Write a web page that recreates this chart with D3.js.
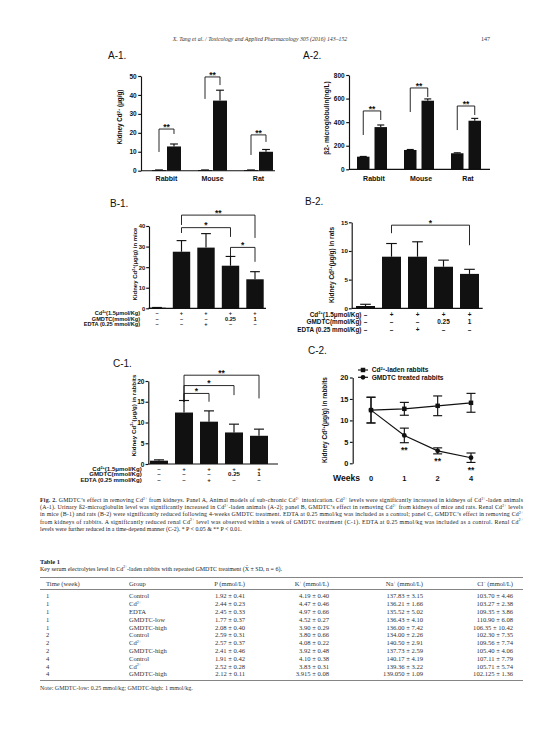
<!DOCTYPE html>
<html>
<head>
<meta charset="utf-8">
<script src="https://cdn.jsdelivr.net/npm/d3@7"></script>
<style>
  html, body { margin: 0; padding: 0; background: #fff; }
  svg { display: block; }
</style>
</head>
<body>
<svg id="page" width="554" height="739"></svg>
<script>
// ---- data ----
const species = ["Rabbit", "Mouse", "Rat"];
const a1Control = [0.3, 0.3, 0.3];
const a1ControlErr = [0.1, 0.1, 0.1];
const a1Cd = [12.8, 37.0, 10.0];
const a1CdErr = [1.3, 5.5, 1.2];
const a2Control = [107, 164, 136];
const a2ControlErr = [2, 4, 4];
const a2Cd = [358, 582, 412];
const a2CdErr = [18, 15, 20];

const b1Values = [0.3, 27.5, 29.5, 20.7, 14.1];
const b1Err = [0.1, 5.4, 6.8, 4.5, 3.7];
const b2Values = [0.4, 9.0, 9.0, 7.25, 6.0];
const b2Err = [0.3, 2.3, 2.6, 1.15, 0.8];
const c1Values = [0.8, 12.4, 10.2, 7.6, 6.8];
const c1Err = [0.2, 2.9, 2.6, 2.0, 1.6];

const treatLabels = ["Cd^{2+}(1.5μmol/Kg)", "GMDTC(mmol/Kg)", "EDTA (0.25 mmol/Kg)"];
const treatCd = ["–", "+", "+", "+", "+"];
const treatGmdtc = ["–", "–", "–", "0.25", "1"];
const treatEdta = ["–", "–", "+", "–", "–"];

const weeks = ["0", "1", "2", "4"];
const c2Laden = [12.4, 12.7, 13.4, 14.1];
const c2LadenErr = [3.0, 1.5, 2.3, 2.2];
const c2Treated = [12.4, 6.5, 2.9, 1.3];
const c2TreatedErr = [3.0, 1.7, 0.7, 1.1];
const c2Sig = ["", "**", "**", "**"];

// brackets: [from bar, to bar, top value, left foot, right foot, label]
const a1Sig = [[22.0, 9.9, 19.4], [49.5, 37.9, 45.2], [18.9, 8.3, 15.2]];
const a2Sig = [[495, 291, 418], [690, 486, 613], [537, 333, 461]];
const b1Sig = [[1, 4, 45.3, 40.5, 34.2, "**"], [1, 3, 39.2, 36.6, 34.7, "*"], [3, 4, 29.6, 25.1, 22.6, "*"]];
const b2Sig = [[1, 4, 14.5, 13.1, 11.0, "*"]];
const c1Sig = [[1, 4, 21.4, 15.0, 15.8, "**"], [1, 3, 18.9, 15.0, 16.6, "*"], [1, 2, 17.0, 15.0, 15.0, "*"]];

const captionLines = [
  "GMDTC’s effect in removing Cd^{2+} from kidneys. Panel A, Animal models of sub-chronic Cd^{2+} intoxication. Cd^{2+} levels were significantly increased in kidneys of Cd^{2+}-laden animals",
  "(A-1). Urinary ß2-microglobulin level was significantly increased in Cd^{2+}-laden animals (A-2); panel B, GMDTC’s effect in removing Cd^{2+} from kidneys of mice and rats. Renal Cd^{2+} levels",
  "in mice (B-1) and rats (B-2) were significantly reduced following 4-weeks GMDTC treatment. EDTA at 0.25 mmol/kg was included as a control; panel C, GMDTC’s effect in removing Cd^{2+}",
  "from kidneys of rabbits. A significantly reduced renal Cd^{2+} level was observed within a week of GMDTC treatment (C-1). EDTA at 0.25 mmol/kg was included as a control. Renal Cd^{2+}",
  "levels were further reduced in a time-depend manner (C-2). * P < 0.05 & ** P < 0.01."
];

const tableHead = ["Time (week)", "Group", "P (mmol/L)", "K^{+} (mmol/L)", "Na^{+} (mmol/L)", "Cl^{−} (mmol/L)"];
const tableWeek = ["1", "1", "1", "1", "1", "2", "2", "2", "4", "4", "4"];
const tableGroup = ["Control", "Cd^{2+}", "EDTA", "GMDTC-low", "GMDTC-high", "Control", "Cd^{2+}", "GMDTC-high", "Control", "Cd^{2+}", "GMDTC-high"];
const tableP = ["1.92 ± 0.41", "2.44 ± 0.23", "2.45 ± 0.33", "1.77 ± 0.37", "2.08 ± 0.40", "2.59 ± 0.31", "2.57 ± 0.37", "2.41 ± 0.46", "1.91 ± 0.42", "2.52 ± 0.28", "2.12 ± 0.11"];
const tableK = ["4.19 ± 0.40", "4.47 ± 0.46", "4.97 ± 0.66", "4.52 ± 0.27", "3.90 ± 0.29", "3.80 ± 0.66", "4.08 ± 0.22", "3.92 ± 0.48", "4.10 ± 0.38", "3.83 ± 0.31", "3.915 ± 0.08"];
const tableNa = ["137.83 ± 3.15", "136.21 ± 1.66", "135.52 ± 5.02", "136.43 ± 4.10", "136.00 ± 7.42", "134.00 ± 2.26", "140.50 ± 2.91", "137.73 ± 2.59", "140.17 ± 4.19", "139.36 ± 3.22", "139.050 ± 1.09"];
const tableCl = ["103.70 ± 4.46", "103.27 ± 2.38", "109.35 ± 3.86", "110.90 ± 6.08", "106.35 ± 10.42", "102.30 ± 7.35", "109.56 ± 7.74", "105.40 ± 4.06", "107.11 ± 7.79", "105.71 ± 5.74", "102.125 ± 1.36"];

// ---- helpers ----
const SANS = "'Liberation Sans', Arial, Helvetica, sans-serif";
const SERIF = "'Liberation Serif', 'DejaVu Serif', serif";
const INK = "#111";
const svg = d3.select("#page");

// text with ^{...} superscripts
function rich(sel, str, fs) {
  const parts = str.split(/\^\{([^}]*)\}/);
  let up = false;
  parts.forEach((p, i) => {
    if (p === "") return;
    const t = sel.append("tspan").text(p);
    if (i % 2 === 1) {
      t.attr("font-size", fs * 0.62).attr("dy", -fs * 0.38);
      up = true;
    } else if (up) {
      t.attr("dy", fs * 0.38);
      up = false;
    }
  });
  return sel;
}

function addText(x, y, str, opt) {
  const fs = opt.size;
  const t = svg.append("text")
    .attr("x", x).attr("y", y)
    .attr("font-family", opt.family || SANS)
    .attr("font-size", fs)
    .attr("font-weight", opt.weight || "normal")
    .attr("text-anchor", opt.anchor || "start")
    .attr("fill", opt.fill || INK);
  if (opt.style) t.attr("font-style", opt.style);
  if (opt.rotate) t.attr("transform", `rotate(-90,${x},${y})`);
  rich(t, str, fs);
  return t;
}

function leftAxis(y, x0, ticks, fs, pad) {
  svg.append("g")
    .attr("transform", `translate(${x0},0)`)
    .call(d3.axisLeft(y).tickValues(ticks).tickSize(2.8).tickSizeOuter(0).tickPadding(pad))
    .attr("font-family", SANS).attr("font-size", fs).attr("font-weight", "bold")
    .call(g => g.selectAll("path, line").attr("stroke", INK).attr("stroke-width", 1.15))
    .call(g => g.selectAll("text").attr("fill", INK));
}

function baseLine(y, x0, x1) {
  svg.append("line")
    .attr("x1", x0).attr("x2", x1).attr("y1", y(0)).attr("y2", y(0))
    .attr("stroke", INK).attr("stroke-width", 1.15);
}

function drawBars(list, y) {
  const g = svg.append("g");
  g.selectAll("rect").data(list).join("rect")
    .attr("x", d => d.x).attr("width", d => d.w)
    .attr("y", d => y(d.v))
    .attr("height", d => Math.max(0.9, y(0) - y(d.v)))
    .attr("fill", INK);
  g.selectAll("line.err").data(list).join("line").attr("class", "err")
    .attr("x1", d => d.x + d.w / 2).attr("x2", d => d.x + d.w / 2)
    .attr("y1", d => y(d.v)).attr("y2", d => y(d.v + d.e))
    .attr("stroke", INK).attr("stroke-width", 1.15);
  g.selectAll("line.cap").data(list).join("line").attr("class", "cap")
    .attr("x1", d => d.x + d.w * 0.22).attr("x2", d => d.x + d.w * 0.78)
    .attr("y1", d => y(d.v + d.e)).attr("y2", d => y(d.v + d.e))
    .attr("stroke", INK).attr("stroke-width", 1.15);
}

function drawBrackets(list, y) {
  list.forEach(b => {
    const p = d3.path();
    p.moveTo(b.xl, y(b.l));
    p.lineTo(b.xl, y(b.top));
    p.lineTo(b.xr, y(b.top));
    p.lineTo(b.xr, y(b.r));
    svg.append("path").attr("d", p.toString())
      .attr("fill", "none").attr("stroke", INK).attr("stroke-width", 0.9);
    addText((b.xl + b.xr) / 2, y(b.top) + 0.6, b.label, { size: 8.5, anchor: "middle", weight: "bold" });
  });
}

function title(x, yc, str) {
  addText(x, yc + 3.5, str, { size: 10 });
}

function yLabel(xc, yc, str, fs) {
  addText(xc + 0.36 * fs, yc, str, { size: fs, anchor: "middle", weight: "bold", rotate: true });
}

function treatRows(x, labelX, rowsY, fs) {
  [treatCd, treatGmdtc, treatEdta].forEach((row, r) => {
    const by = rowsY[r] + fs * 0.36;
    addText(labelX, by, treatLabels[r], { size: fs, anchor: "end", weight: "bold" });
    row.forEach((v, i) => addText(x(i) + x.bandwidth() / 2, by, v, { size: fs, anchor: "middle", weight: "bold" }));
  });
}

// ---- page header ----
addText(260, 41, "X. Tang et al. / Toxicology and Applied Pharmacology 305 (2016) 143–152",
  { size: 5.8, family: SERIF, style: "italic", anchor: "middle", fill: "#333" });
addText(490, 41, "147", { size: 6, family: SERIF, anchor: "end", fill: "#333" });

// ---- A-1 ----
{
  const y = d3.scaleLinear().domain([0, 50]).range([170.7, 76]);
  const gx = d3.scaleBand().domain(species).range([143.5, 281.5]);
  const sx = d3.scaleBand().domain(["ctrl", "cd"]).range([0, gx.bandwidth()])
    .paddingInner(0.067).paddingOuter(0.567);
  const list = [];
  species.forEach((s, i) => {
    list.push({ x: gx(s) + sx("ctrl"), w: sx.bandwidth(), v: a1Control[i], e: a1ControlErr[i] });
    list.push({ x: gx(s) + sx("cd"), w: sx.bandwidth(), v: a1Cd[i], e: a1CdErr[i] });
  });
  title(108, 55, "A-1.");
  drawBars(list, y);
  baseLine(y, 141, 275);
  leftAxis(y, 141, [0, 10, 20, 30, 40, 50], 6.5, 1.5);
  species.forEach(s => addText(gx(s) + gx.bandwidth() / 2, 180.8, s, { size: 7, anchor: "middle", weight: "bold" }));
  yLabel(120, 117, "Kidney Cd^{2+} (μg/g)", 6.3);
  drawBrackets(species.map((s, i) => ({
    xl: gx(s) + sx("ctrl") + sx.bandwidth() / 2, xr: gx(s) + sx("cd") + sx.bandwidth() / 2,
    top: a1Sig[i][0], l: a1Sig[i][1], r: a1Sig[i][2], label: "**"
  })), y);
}

// ---- A-2 ----
{
  const y = d3.scaleLinear().domain([0, 800]).range([169.3, 75]);
  const gx = d3.scaleBand().domain(species).range([348.5, 489.5]);
  const sx = d3.scaleBand().domain(["ctrl", "cd"]).range([0, gx.bandwidth()])
    .paddingInner(0.286).paddingOuter(0.486);
  const list = [];
  species.forEach((s, i) => {
    list.push({ x: gx(s) + sx("ctrl"), w: sx.bandwidth(), v: a2Control[i], e: a2ControlErr[i] });
    list.push({ x: gx(s) + sx("cd"), w: sx.bandwidth(), v: a2Cd[i], e: a2CdErr[i] });
  });
  title(303, 55, "A-2.");
  drawBars(list, y);
  baseLine(y, 349, 490);
  leftAxis(y, 349, [0, 200, 400, 600, 800], 6.5, 1.5);
  species.forEach(s => addText(gx(s) + gx.bandwidth() / 2 + 2, 180.8, s, { size: 7, anchor: "middle", weight: "bold" }));
  yLabel(327, 118, "β2- microglobulin(ng/L)", 6.6);
  drawBrackets(species.map((s, i) => ({
    xl: gx(s) + sx("ctrl") + sx.bandwidth() / 2, xr: gx(s) + sx("cd") + sx.bandwidth() / 2,
    top: a2Sig[i][0], l: a2Sig[i][1], r: a2Sig[i][2], label: "**"
  })), y);
}

// ---- simple five-bar panels ----
function fiveBar(cfg) {
  const y = d3.scaleLinear().domain([0, cfg.max]).range([cfg.y0, cfg.y1]);
  const x = d3.scaleBand().domain(d3.range(5)).range(cfg.range)
    .paddingInner(cfg.pad).paddingOuter(cfg.pad / 2);
  title(cfg.titleX, cfg.titleY, cfg.title);
  drawBars(cfg.values.map((v, i) => ({ x: x(i), w: x.bandwidth(), v: v, e: cfg.errs[i] })), y);
  baseLine(y, cfg.axisX, cfg.axisEnd);
  leftAxis(y, cfg.axisX, cfg.ticks, cfg.tickFs, 1);
  yLabel(cfg.labX, cfg.labY, cfg.label, cfg.labFs);
  drawBrackets(cfg.sig.map(s => ({
    xl: x(s[0]) + x.bandwidth() / 2, xr: x(s[1]) + x.bandwidth() / 2,
    top: s[2], l: s[3], r: s[4], label: s[5]
  })), y);
  treatRows(x, cfg.rowX, cfg.rowsY, cfg.rowFs);
}

fiveBar({
  title: "B-1.", titleX: 110, titleY: 203.3,
  max: 40, y0: 308.3, y1: 226, range: [144.75, 267.25], pad: 0.29,
  axisX: 149, axisEnd: 266, ticks: [0, 10, 20, 30, 40], tickFs: 5.8,
  values: b1Values, errs: b1Err, sig: b1Sig,
  labX: 134.8, labY: 264, label: "Kidney Cd^{2+}(μg/g) in mice", labFs: 6,
  rowX: 140, rowsY: [313.3, 318.5, 323.7], rowFs: 5.6
});

fiveBar({
  title: "B-2.", titleX: 305, titleY: 201.7,
  max: 15, y0: 308.3, y1: 222.3, range: [352.5, 482.5], pad: 0.27,
  axisX: 351.7, axisEnd: 482.7, ticks: [0, 5, 10, 15], tickFs: 6.2,
  values: b2Values, errs: b2Err, sig: b2Sig,
  labX: 331.7, labY: 265, label: "Kidney Cd^{2+}(μg/g) in rats", labFs: 6.5,
  rowX: 361.5, rowsY: [314.5, 322, 329.5], rowFs: 6.4
});

fiveBar({
  title: "C-1.", titleX: 113, titleY: 363.3,
  max: 20, y0: 464, y1: 381, range: [146.5, 271.5], pad: 0.28,
  axisX: 148.3, axisEnd: 278, ticks: [0, 5, 10, 15, 20], tickFs: 6.6,
  values: c1Values, errs: c1Err, sig: c1Sig,
  labX: 133.3, labY: 415.5, label: "Kidney Cd^{2+}(μg/g) in rabbits", labFs: 6.2,
  rowX: 141.7, rowsY: [468.7, 474.3, 480], rowFs: 6.1
});

// ---- C-2 ----
{
  const x = d3.scalePoint().domain(weeks).range([371, 471]);
  const y = d3.scaleLinear().domain([0, 20]).range([463.3, 377.5]);
  title(308, 350, "C-2.");
  leftAxis(y, 352.7, [0, 5, 10, 15, 20], 7.3, 1.5);
  yLabel(325, 420, "Kidney Cd^{2+}(μg/g) in rabbits", 6.5);

  const series = [
    { vals: c2Laden, errs: c2LadenErr, shape: "square" },
    { vals: c2Treated, errs: c2TreatedErr, shape: "circle" }
  ];
  const line = d3.line().x((d, i) => x(weeks[i])).y(d => y(d));
  series.forEach(s => {
    const g = svg.append("g");
    g.append("path").attr("d", line(s.vals)).attr("fill", "none")
      .attr("stroke", INK).attr("stroke-width", 1.15);
    weeks.forEach((w, i) => {
      const cx = x(w);
      g.append("line").attr("x1", cx).attr("x2", cx)
        .attr("y1", y(s.vals[i] - s.errs[i])).attr("y2", y(s.vals[i] + s.errs[i]))
        .attr("stroke", INK).attr("stroke-width", 1.15);
      [s.vals[i] - s.errs[i], s.vals[i] + s.errs[i]].forEach(v => {
        g.append("line").attr("x1", cx - 4.5).attr("x2", cx + 4.5)
          .attr("y1", y(v)).attr("y2", y(v)).attr("stroke", INK).attr("stroke-width", 1.15);
      });
    });
    g.selectAll("path.mark").data(s.vals).join("path").attr("class", "mark")
      .attr("transform", (d, i) => `translate(${x(weeks[i])},${y(d)})`)
      .attr("d", d3.symbol(s.shape === "square" ? d3.symbolSquare : d3.symbolCircle, s.shape === "square" ? 20 : 18))
      .attr("fill", INK);
  });
  c2Sig.forEach((lab, i) => {
    if (!lab) return;
    const yy = y(c2Treated[i] - c2TreatedErr[i]) + 5.5;
    addText(x(weeks[i]), yy + 4.6, lab, { size: 8.5, anchor: "middle", weight: "bold" });
  });
  weeks.forEach(w => addText(x(w), 478.3 + 2.7, w, { size: 7.5, anchor: "middle", weight: "bold" }));
  addText(360, 478.3 + 3, "Weeks", { size: 8.6, anchor: "end", weight: "bold" });

  // legend
  const legend = [
    { label: "Cd^{2+}-laden rabbits", shape: d3.symbolSquare, size: 20, ly: 370 },
    { label: "GMDTC treated rabbits", shape: d3.symbolCircle, size: 18, ly: 377.3 }
  ];
  legend.forEach(l => {
    svg.append("line").attr("x1", 358).attr("x2", 368).attr("y1", l.ly).attr("y2", l.ly)
      .attr("stroke", INK).attr("stroke-width", 1.15);
    svg.append("path").attr("transform", `translate(363,${l.ly})`)
      .attr("d", d3.symbol(l.shape, l.size)).attr("fill", INK);
    addText(371.7, l.ly + 2.3, l.label, { size: 6.6, weight: "bold" });
  });
}

// ---- caption ----
captionLines.forEach((str, i) => {
  const by = 502 + i * 7.2;
  const t = svg.append("text").attr("x", 40).attr("y", by)
    .attr("font-family", SERIF).attr("font-size", 5.9).attr("fill", "#222");
  if (i === 0) t.append("tspan").attr("font-weight", "bold").text("Fig. 2. ");
  rich(t, str, 5.9);
  if (i < captionLines.length - 1) t.attr("textLength", 483).attr("lengthAdjust", "spacing");
});

// ---- table ----
addText(40, 563.5, "Table 1", { size: 6.4, family: SERIF, weight: "bold", fill: "#222" });
addText(40, 570.5, "Key serum electrolytes level in Cd^{2+}-laden rabbits with repeated GMDTC treatment (X̄ ± SD, n = 6).",
  { size: 6, family: SERIF, fill: "#222" });

const colX = [46, 129, 245, 329, 423, 513];
const colAnchor = ["start", "start", "end", "end", "end", "end"];
const rule = yy => svg.append("line").attr("x1", 40).attr("x2", 523).attr("y1", yy).attr("y2", yy)
  .attr("stroke", "#666").attr("stroke-width", 0.8);
rule(577.5);
rule(589.5);
tableHead.forEach((h, i) => addText(colX[i], 586.3, h, { size: 6.6, family: SERIF, anchor: colAnchor[i], fill: "#333" }));
const columns = [tableWeek, tableGroup, tableP, tableK, tableNa, tableCl];
tableWeek.forEach((w, r) => {
  const by = 598.3 + r * 7.8;
  columns.forEach((col, c) => addText(colX[c], by, col[r], { size: 6.6, family: SERIF, anchor: colAnchor[c], fill: "#333" }));
});
rule(680.5);
addText(40, 689.5, "Note: GMDTC-low: 0.25 mmol/kg; GMDTC-high: 1 mmol/kg.", { size: 6, family: SERIF, fill: "#333" });
</script>
</body>
</html>
